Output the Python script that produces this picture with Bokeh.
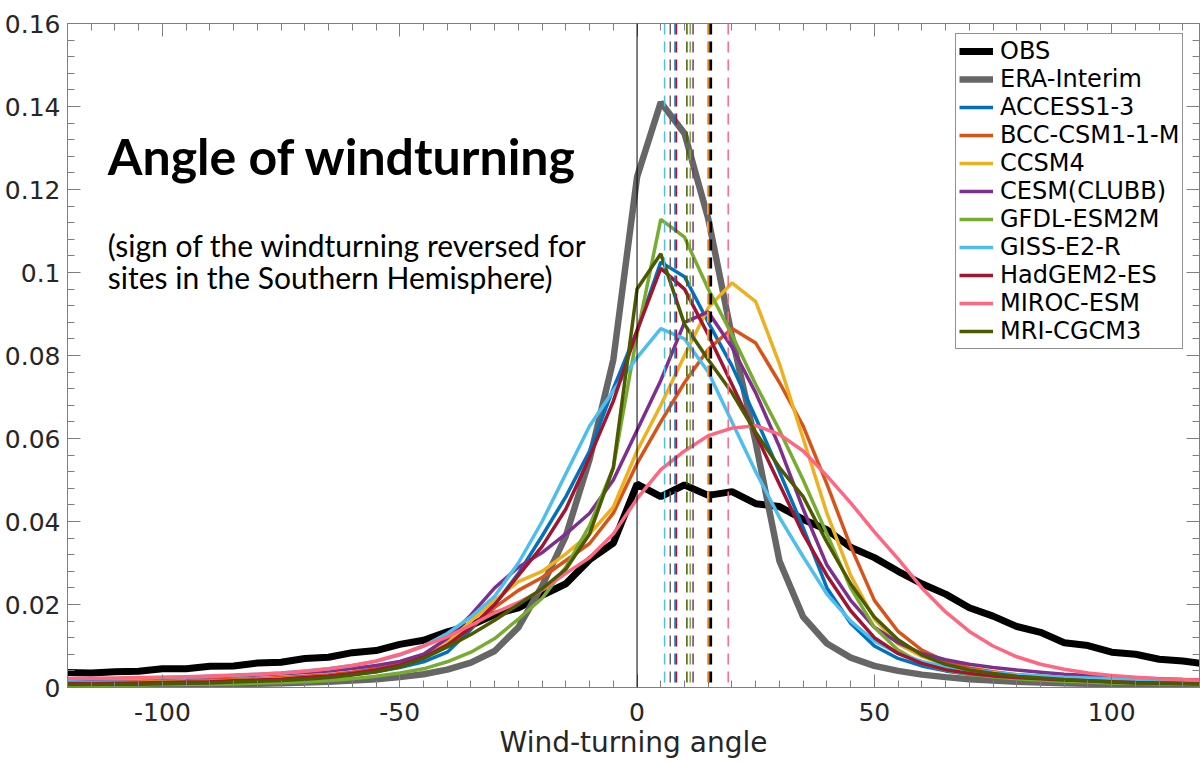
from bokeh.plotting import figure
from bokeh.models import (FixedTicker, LinearAxis, Legend, LegendItem, Label, Span,
                          Range1d, CustomJSTickFormatter)
from bokeh.embed import file_html
from bokeh.resources import INLINE

angles = list(range(-120, 125, 5))

obs = [0.0036, 0.0035, 0.0038, 0.0039, 0.0045, 0.0045, 0.0051, 0.0052, 0.0059, 0.0061,
       0.0070, 0.0073, 0.0084, 0.0089, 0.0104, 0.0114, 0.0134, 0.0150, 0.0176, 0.0192,
       0.0222, 0.0250, 0.0308, 0.0348, 0.0490, 0.0460, 0.0488, 0.0463, 0.0472, 0.0443,
       0.0436, 0.0405, 0.0380, 0.0338, 0.0313, 0.0280, 0.0250, 0.0225, 0.0192, 0.0172,
       0.0147, 0.0133, 0.0108, 0.0101, 0.0085, 0.0080, 0.0068, 0.0064, 0.0056]
era = [0.0004, 0.0004, 0.0005, 0.0005, 0.0006, 0.0006, 0.0007, 0.0008, 0.0009, 0.0010,
       0.0012, 0.0014, 0.0017, 0.0020, 0.0025, 0.0032, 0.0043, 0.0060, 0.0088, 0.0145,
       0.0245, 0.0365, 0.0550, 0.0790, 0.1230, 0.1410, 0.1335, 0.1130, 0.0845, 0.0590,
       0.0305, 0.0170, 0.0106, 0.0072, 0.0052, 0.0040, 0.0031, 0.0025, 0.0020, 0.0017,
       0.0014, 0.0012, 0.0010, 0.0009, 0.0008, 0.0007, 0.0006, 0.0006, 0.0005]
access = [0.0008, 0.0009, 0.0009, 0.0010, 0.0011, 0.0012, 0.0013, 0.0015, 0.0017, 0.0019,
          0.0022, 0.0026, 0.0031, 0.0038, 0.0048, 0.0062, 0.0085, 0.0140, 0.0200, 0.0275,
          0.0365, 0.0460, 0.0570, 0.0720, 0.0860, 0.1025, 0.0990, 0.0880, 0.0775, 0.0650,
          0.0520, 0.0385, 0.0240, 0.0155, 0.0100, 0.0070, 0.0052, 0.0040, 0.0032, 0.0027,
          0.0023, 0.0020, 0.0018, 0.0016, 0.0014, 0.0012, 0.0011, 0.0010, 0.0009]
bcc = [0.0012, 0.0013, 0.0013, 0.0014, 0.0015, 0.0016, 0.0018, 0.0019, 0.0021, 0.0024,
       0.0027, 0.0031, 0.0037, 0.0045, 0.0056, 0.0075, 0.0105, 0.0145, 0.0193, 0.0234,
       0.0265, 0.0306, 0.0347, 0.0420, 0.0540, 0.0640, 0.0735, 0.0815, 0.0865, 0.0830,
       0.0735, 0.0630, 0.0490, 0.0340, 0.0210, 0.0135, 0.0090, 0.0063, 0.0047, 0.0038,
       0.0031, 0.0027, 0.0023, 0.0021, 0.0019, 0.0017, 0.0015, 0.0014, 0.0013]
ccsm4 = [0.0010, 0.0010, 0.0011, 0.0012, 0.0013, 0.0014, 0.0015, 0.0017, 0.0019, 0.0021,
         0.0024, 0.0028, 0.0033, 0.0041, 0.0052, 0.0072, 0.0108, 0.0160, 0.0210, 0.0255,
         0.0280, 0.0322, 0.0370, 0.0435, 0.0570, 0.0680, 0.0800, 0.0915, 0.0975, 0.0930,
         0.0780, 0.0600, 0.0420, 0.0270, 0.0165, 0.0105, 0.0075, 0.0055, 0.0041, 0.0033,
         0.0027, 0.0023, 0.0020, 0.0017, 0.0015, 0.0013, 0.0012, 0.0011, 0.0010]
cesm = [0.0019, 0.0020, 0.0021, 0.0022, 0.0023, 0.0025, 0.0026, 0.0028, 0.0030, 0.0033,
        0.0036, 0.0040, 0.0046, 0.0053, 0.0063, 0.0080, 0.0118, 0.0175, 0.0240, 0.0290,
        0.0325, 0.0370, 0.0420, 0.0500, 0.0620, 0.0740, 0.0880, 0.0905, 0.0820, 0.0710,
        0.0580, 0.0430, 0.0295, 0.0210, 0.0145, 0.0108, 0.0082, 0.0067, 0.0056, 0.0048,
        0.0042, 0.0037, 0.0032, 0.0029, 0.0026, 0.0023, 0.0021, 0.0019, 0.0018]
gfdl = [0.0005, 0.0005, 0.0006, 0.0006, 0.0007, 0.0008, 0.0008, 0.0009, 0.0011, 0.0012,
        0.0014, 0.0017, 0.0021, 0.0027, 0.0035, 0.0045, 0.0062, 0.0085, 0.0118, 0.0165,
        0.0215, 0.0290, 0.0390, 0.0530, 0.0850, 0.1128, 0.1085, 0.0960, 0.0850, 0.0730,
        0.0620, 0.0500, 0.0370, 0.0240, 0.0145, 0.0090, 0.0058, 0.0042, 0.0032, 0.0026,
        0.0021, 0.0018, 0.0015, 0.0013, 0.0011, 0.0010, 0.0009, 0.0008, 0.0007]
giss = [0.0020, 0.0021, 0.0021, 0.0022, 0.0024, 0.0025, 0.0027, 0.0029, 0.0032, 0.0035,
        0.0040, 0.0045, 0.0053, 0.0063, 0.0078, 0.0100, 0.0130, 0.0170, 0.0220, 0.0300,
        0.0400, 0.0515, 0.0630, 0.0715, 0.0795, 0.0865, 0.0840, 0.0760, 0.0640, 0.0520,
        0.0410, 0.0315, 0.0225, 0.0160, 0.0112, 0.0082, 0.0063, 0.0050, 0.0042, 0.0036,
        0.0031, 0.0028, 0.0025, 0.0023, 0.0021, 0.0019, 0.0017, 0.0016, 0.0015]
hadgem = [0.0009, 0.0009, 0.0010, 0.0011, 0.0012, 0.0013, 0.0014, 0.0016, 0.0018, 0.0020,
          0.0024, 0.0028, 0.0034, 0.0042, 0.0054, 0.0073, 0.0102, 0.0145, 0.0200, 0.0270,
          0.0340, 0.0430, 0.0555, 0.0690, 0.0860, 0.1010, 0.0960, 0.0850, 0.0730, 0.0610,
          0.0490, 0.0370, 0.0270, 0.0185, 0.0120, 0.0082, 0.0058, 0.0043, 0.0034, 0.0028,
          0.0024, 0.0021, 0.0018, 0.0016, 0.0014, 0.0012, 0.0011, 0.0010, 0.0009]
miroc = [0.0022, 0.0022, 0.0023, 0.0024, 0.0025, 0.0026, 0.0028, 0.0030, 0.0032, 0.0035,
         0.0039, 0.0045, 0.0053, 0.0064, 0.0080, 0.0100, 0.0122, 0.0150, 0.0180, 0.0205,
         0.0235, 0.0275, 0.0313, 0.0370, 0.0455, 0.0525, 0.0570, 0.0607, 0.0625, 0.0631,
         0.0610, 0.0570, 0.0510, 0.0445, 0.0375, 0.0310, 0.0240, 0.0182, 0.0135, 0.0100,
         0.0074, 0.0056, 0.0044, 0.0035, 0.0029, 0.0025, 0.0021, 0.0019, 0.0017]
mri = [0.0007, 0.0007, 0.0008, 0.0008, 0.0009, 0.0010, 0.0011, 0.0013, 0.0015, 0.0017,
       0.0020, 0.0024, 0.0030, 0.0038, 0.0050, 0.0070, 0.0098, 0.0128, 0.0162, 0.0200,
       0.0238, 0.0285, 0.0370, 0.0530, 0.0960, 0.1045, 0.0875, 0.0790, 0.0710, 0.0615,
       0.0530, 0.0460, 0.0350, 0.0250, 0.0170, 0.0115, 0.0078, 0.0056, 0.0042, 0.0034,
       0.0027, 0.0023, 0.0019, 0.0016, 0.0013, 0.0011, 0.0010, 0.0009, 0.0008]

names = ["OBS", "ERA-Interim", "ACCESS1-3", "BCC-CSM1-1-M", "CCSM4", "CESM(CLUBB)",
         "GFDL-ESM2M", "GISS-E2-R", "HadGEM2-ES", "MIROC-ESM", "MRI-CGCM3"]
series = [obs, era, access, bcc, ccsm4, cesm, gfdl, giss, hadgem, miroc, mri]
colors = ["#000000", "#666666", "#0072BD", "#D95319", "#EDB120", "#7E2F8E",
          "#77AC30", "#4DBEEE", "#A2142F", "#FF6680", "#4B5A00"]
widths = [7, 6.5, 3.5, 3.5, 3.5, 3.5, 3.5, 3.5, 3.5, 3.5, 3.5]
# mean wind-turning angle of each dataset (dashed vertical lines)
means = [15.5, 7.0, 8.0, 15.1, 14.9, 11.8, 11.2, 5.8, 8.3, 19.2, 10.5]

y_ticks = [0, 0.02, 0.04, 0.06, 0.08, 0.1, 0.12, 0.14, 0.16]
y_minor = [i * 0.004 for i in range(41)]
x_ticks = [-100, -50, 0, 50, 100]
x_minor = list(range(-120, 125, 5))

AX = "#7f7f7f"
TXT = "#262626"
FONT = "DejaVu Sans"

p = figure(width=1200, height=763, x_range=Range1d(-120, 118.5), y_range=Range1d(0, 0.16),
           output_backend="svg", toolbar_location=None,
           min_border_left=67, min_border_right=1, min_border_top=23, min_border_bottom=76)
p.xgrid.visible = False
p.ygrid.visible = False
p.outline_line_color = AX
p.background_fill_color = "white"

def style(ax, labels=True):
    ax.axis_line_color = AX
    ax.major_tick_line_color = AX
    ax.minor_tick_line_color = AX
    ax.major_tick_in = 13
    ax.major_tick_out = 0
    ax.minor_tick_in = 7
    ax.minor_tick_out = 0
    ax.major_label_text_color = TXT
    ax.major_label_text_font = FONT
    ax.major_label_text_font_size = "25px" if labels else "0px"
    ax.axis_label_text_color = TXT
    ax.axis_label_text_font = FONT
    ax.axis_label_text_font_style = "normal"
    ax.axis_label_text_font_size = "28px"

xt = FixedTicker(ticks=x_ticks, minor_ticks=x_minor)
yt = FixedTicker(ticks=y_ticks, minor_ticks=y_minor)
yfmt = CustomJSTickFormatter(code="return tick.toFixed(2).replace(/0+$/,'').replace(/\\.$/,'');")
xfmt = CustomJSTickFormatter(code="return String(tick);")
blank = CustomJSTickFormatter(code="return '';")

p.xaxis.ticker = xt
p.xaxis.formatter = xfmt
p.yaxis.ticker = yt
p.yaxis.formatter = yfmt
p.xaxis.axis_label = "Wind-turning angle"
style(p.xaxis[0])
style(p.yaxis[0])
p.xaxis.major_label_standoff = 15
p.yaxis.major_label_standoff = 7
p.xaxis.axis_label_standoff = 2

top = LinearAxis(ticker=xt, formatter=blank)
right = LinearAxis(ticker=yt, formatter=blank)
style(top, False)
style(right, False)
p.add_layout(top, "above")
p.add_layout(right, "right")

renderers = []
for name, ys, c, w in zip(names, series, colors, widths):
    r = p.line(angles, ys, line_color=c, line_width=w)
    renderers.append((name, r))

for m, c, w in zip(means, colors, widths):
    p.add_layout(Span(location=m, dimension="height", line_color=c,
                      line_width=3 if w > 6.8 else 1.5, line_dash="11 7"))
p.add_layout(Span(location=0, dimension="height", line_color="#000000", line_width=1))

items = [LegendItem(label=n, renderers=[r]) for n, r in renderers]
legend = Legend(items=items, location=(888, 338), label_text_font=FONT,
                label_text_font_size="24px", label_text_color="#000000",
                glyph_width=34, glyph_height=28, label_height=28, spacing=0,
                padding=3, margin=0, label_standoff=7,
                border_line_color="#262626", border_line_width=1,
                background_fill_color="white", background_fill_alpha=1)
p.add_layout(legend)

p.add_layout(Label(x=-111.5, y=0.1281, text="Angle of windturning", text_font="Lato",
                   text_font_style="bold", text_font_size="50px", text_color="#000000",
                   text_baseline="alphabetic"))
p.add_layout(Label(x=-111.5, y=0.1067, text="(sign of the windturning reversed for",
                   text_font="Lato", text_font_size="30px", text_color="#000000",
                   text_baseline="alphabetic"))
p.add_layout(Label(x=-111.5, y=0.0988, text="sites in the Southern Hemisphere)",
                   text_font="Lato", text_font_size="30px", text_color="#000000",
                   text_baseline="alphabetic"))

open("out.html", "w").write(file_html(p, INLINE))
